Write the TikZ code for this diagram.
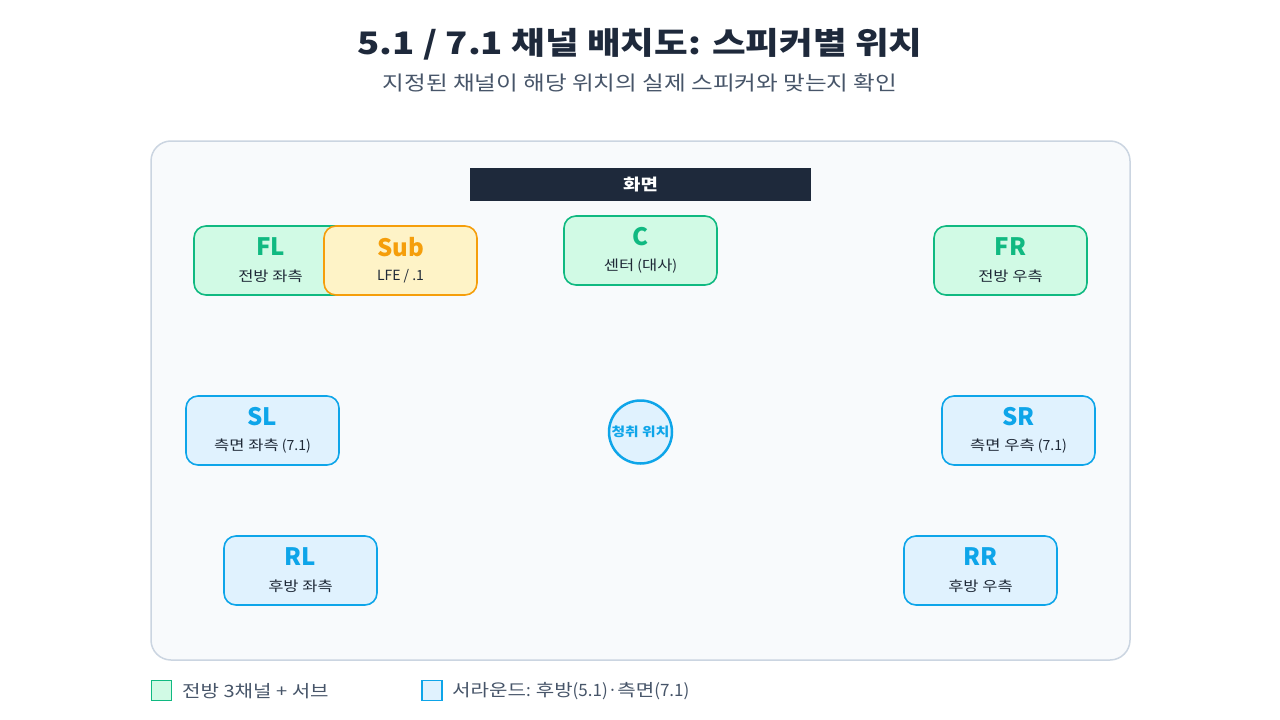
\documentclass[tikz,border=0pt]{standalone}
\usepackage{fontspec}
\setmainfont{Noto Sans CJK KR}
\newfontfamily\krw[FakeStretch=1.18]{Noto Sans CJK KR}
\definecolor{navy}{HTML}{1E293B}
\definecolor{sub}{HTML}{475569}
\definecolor{panelfill}{HTML}{F8FAFC}
\definecolor{panelline}{HTML}{CBD5E1}
\definecolor{gfill}{HTML}{D1FAE5}
\definecolor{gline}{HTML}{10B981}
\definecolor{bfill}{HTML}{E0F2FE}
\definecolor{bline}{HTML}{0EA5E9}
\definecolor{ofill}{HTML}{FEF3C7}
\definecolor{oline}{HTML}{F59E0B}
\definecolor{body}{HTML}{1F2937}
\begin{document}
\begin{tikzpicture}[x=1pt,y=-1pt,
  spk/.style={draw, line width=1.6pt, rounded corners=12pt, minimum width=153pt, minimum height=69pt, inner sep=0pt},
  front/.style={spk, fill=gfill, draw=gline},
  surr/.style={spk, fill=bfill, draw=bline},
  subw/.style={spk, fill=ofill, draw=oline},
  ttl/.style={font=\fontsize{24}{28}\selectfont\bfseries, inner sep=0pt},
  lbl/.style={font=\fontsize{14}{16}\selectfont, text=body, inner sep=0pt},
  legtxt/.style={font=\fontsize{17}{20}\selectfont, text=sub, anchor=west, inner sep=0pt}
]
\useasboundingbox (0,0) rectangle (1280,720);
\fill[white] (0,0) rectangle (1280,720);
\node[font=\fontsize{31}{36}\selectfont\bfseries, text=navy] (title) at (640,44) {\krw 5.1 / 7.1 채널 배치도: 스피커별 위치};
\node[font=\fontsize{20}{24}\selectfont, text=sub] (subtitle) at (640,83) {\krw 지정된 채널이 해당 위치의 실제 스피커와 맞는지 확인};
\node[draw=panelline, fill=panelfill, line width=1.5pt, rounded corners=20pt, minimum width=979pt, minimum height=519pt, inner sep=0pt] (panel) at (640.5,400.5) {};
\node[fill=navy, minimum width=341pt, minimum height=33pt, inner sep=0pt, text=white, font=\fontsize{16}{18}\selectfont\bfseries] (screen) at (640.5,184.5) {\krw 화면};
% front
\node[front] (FL) at (270.5,260.5) {};
\node[ttl, text=gline] (FLt) at (270.5,247) {FL};
\node[lbl] (FLl) at (270.5,276) {\krw 전방 좌측};
\node[subw] (Sub) at (400.5,260.5) {};
\node[ttl, text=oline] (Subt) at (400.5,247) {Sub};
\node[lbl] (Subl) at (400.5,276) {LFE / .1};
\node[front] (C) at (640.5,250.5) {};
\node[ttl, text=gline] (Ct) at (640.5,237) {C};
\node[lbl] (Cl) at (640.5,266) {{\krw 센터} ({\krw 대사})};
\node[front] (FR) at (1010.5,260.5) {};
\node[ttl, text=gline] (FRt) at (1010.5,247) {FR};
\node[lbl] (FRl) at (1010.5,276) {\krw 전방 우측};
% surround
\node[surr] (SL) at (262.5,430.5) {};
\node[ttl, text=bline] (SLt) at (262.5,417) {SL};
\node[lbl] (SLl) at (262.5,446) {{\krw 측면 좌측} (7.1)};
\node[surr] (SR) at (1018.5,430.5) {};
\node[ttl, text=bline] (SRt) at (1018.5,417) {SR};
\node[lbl] (SRl) at (1018.5,446) {{\krw 측면 우측} (7.1)};
\node[surr] (RL) at (300.5,570.5) {};
\node[ttl, text=bline] (RLt) at (300.5,557) {RL};
\node[lbl] (RLl) at (300.5,586) {\krw 후방 좌측};
\node[surr] (RR) at (980.5,570.5) {};
\node[ttl, text=bline] (RRt) at (980.5,557) {RR};
\node[lbl] (RRl) at (980.5,586) {\krw 후방 우측};
% listener
\node[circle, draw=bline, fill=bfill, line width=2.5pt, minimum size=63pt, inner sep=0pt, text=bline, font=\fontsize{12.5}{14}\selectfont\bfseries] (listener) at (640.5,432) {\krw 청취 위치};
% legend
\node[draw=gline, fill=gfill, line width=1.5pt, minimum size=20pt, inner sep=0pt] (lg1) at (161.5,690.5) {};
\node[legtxt] (lg1t) at (182,691) {{\krw 전방 3채널 + 서브}};
\node[draw=bline, fill=bfill, line width=1.5pt, minimum size=20pt, inner sep=0pt] (lg2) at (432,690.5) {};
\node[legtxt] (lg2t) at (452,691) {{\krw 서라운드}: {\krw 후방}(5.1)·{\krw 측면}(7.1)};
\end{tikzpicture}
\end{document}
